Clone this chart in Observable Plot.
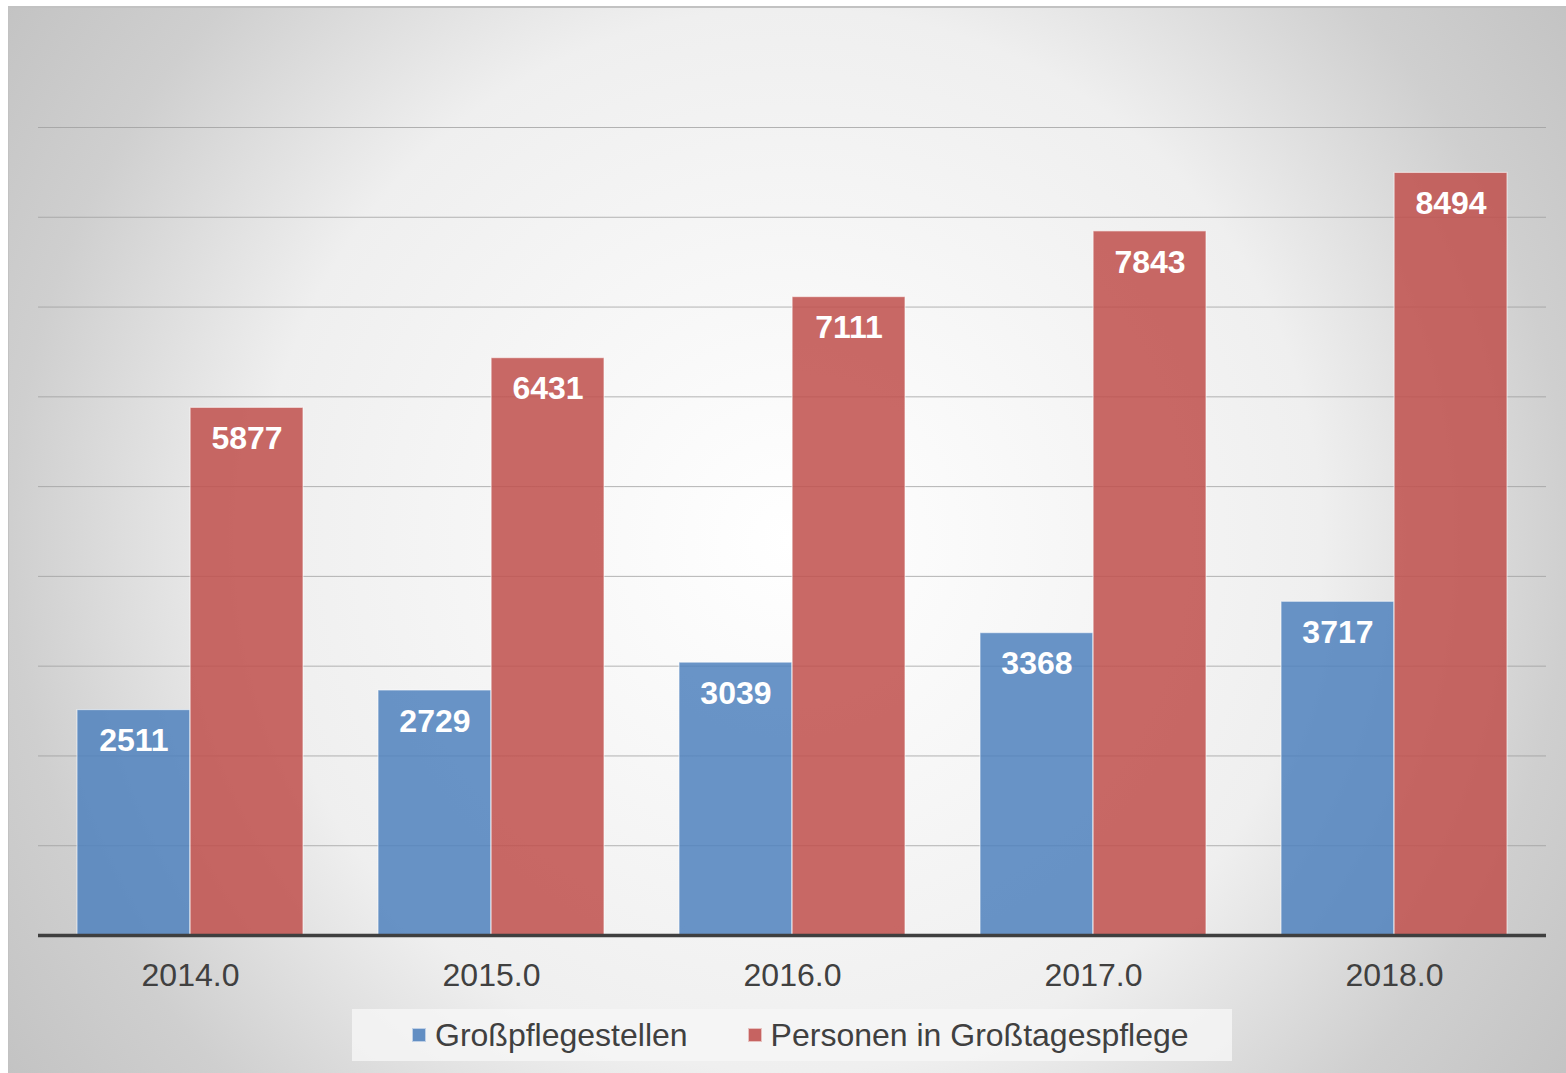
<!DOCTYPE html>
<html>
<head>
<meta charset="utf-8">
<script src="https://cdn.jsdelivr.net/npm/d3@7"></script>
<script src="https://cdn.jsdelivr.net/npm/@observablehq/plot@0.6"></script>
<style>
  html, body { margin: 0; padding: 0; background: #ffffff; }
  body { width: 1566px; height: 1073px; position: relative; overflow: hidden; font-family: "Liberation Sans", Arial, sans-serif; }
  #frame {
    position: absolute; left: 8px; top: 6px; width: 1558px; height: 1067px;
    background: radial-gradient(circle 950px at 782px 534px, #ffffff 0%, #efefef 56%, #cfcfcf 82%, #c3c3c3 100%);
    box-shadow: inset 1px 2px 0 #c2c2c2;
  }
  #chart { position: absolute; left: 0; top: 0; }
  #legend {
    position: absolute; left: 344px; top: 1003px; width: 880px; height: 52px;
    background: rgba(246,246,246,0.8);
    display: flex; align-items: center; box-sizing: border-box; padding-left: 60px;
    font-size: 32px; color: #404040; white-space: nowrap;
  }
  .item { display: flex; align-items: center; margin-right: 60px; flex-shrink: 0; white-space: nowrap; }
  .sw { width: 14px; height: 14px; margin-right: 9px; box-sizing: border-box; border: 1px solid rgba(255,255,255,0.6); flex-shrink: 0; }
</style>
</head>
<body>
<div id="frame">
  <div id="chart"></div>
  <div id="legend"></div>
</div>
<script>
const years = [2014, 2015, 2016, 2017, 2018];
const seriesNames = ["Großpflegestellen", "Personen in Großtagespflege"];
const grosspflegestellen = [2511, 2729, 3039, 3368, 3717];
const personen = [5877, 6431, 7111, 7843, 8494];
const yTicks = [1000, 2000, 3000, 4000, 5000, 6000, 7000, 8000, 9000];
const colors = ["#4f81bd", "#c0504d"];

const dataA = years.map((y, i) => ({year: y, series: seriesNames[0], value: grosspflegestellen[i]}));
const dataB = years.map((y, i) => ({year: y, series: seriesNames[1], value: personen[i]}));

const W = 1558, H = 994, mL = 30, mR = 20, mT = 121, mB = 65;
const pInner = 0.25, pOuter = 0.125;
const step = (W - mL - mR) / (years.length - pInner + 2 * pOuter);
const half = step * (1 - pInner) / 2;

const chart = Plot.plot({
  width: W, height: H,
  marginLeft: mL, marginRight: mR, marginTop: mT, marginBottom: mB,
  style: {background: "transparent", fontFamily: "'Liberation Sans', Arial, sans-serif", fontSize: "32px", color: "#404040"},
  x: {type: "band", domain: years, paddingInner: pInner, paddingOuter: pOuter, tickSize: 0, tickPadding: 28, tickFormat: d => d.toFixed(1), label: null},
  y: {domain: [0, 9000], axis: null},
  marks: [
    Plot.ruleY(yTicks, {stroke: "#9c9c9c", strokeWidth: 1, strokeOpacity: 0.75}),
    Plot.barY(dataA, {x: "year", y: "value", fill: colors[0], fillOpacity: 0.85, stroke: "#ffffff", strokeOpacity: 0.55, strokeWidth: 1.2, insetRight: half}),
    Plot.barY(dataB, {x: "year", y: "value", fill: colors[1], fillOpacity: 0.86, stroke: "#ffffff", strokeOpacity: 0.55, strokeWidth: 1.2, insetLeft: half}),
    Plot.text(dataA, {x: "year", y: "value", text: d => String(d.value), dx: -half / 2, dy: 31, fill: "#ffffff", fontWeight: "bold", fontSize: 32}),
    Plot.text(dataB, {x: "year", y: "value", text: d => String(d.value), dx: half / 2, dy: 31, fill: "#ffffff", fontWeight: "bold", fontSize: 32}),
    Plot.ruleY([0], {stroke: "#3f3f3f", strokeWidth: 3.5})
  ]
});
document.getElementById("chart").appendChild(chart);

const legend = document.getElementById("legend");
seriesNames.forEach((name, i) => {
  const item = document.createElement("div");
  item.className = "item";
  const sw = document.createElement("span");
  sw.className = "sw";
  sw.style.background = colors[i];
  sw.style.opacity = 0.88;
  const label = document.createElement("span");
  label.textContent = name;
  item.appendChild(sw);
  item.appendChild(label);
  legend.appendChild(item);
});
</script>
</body>
</html>
